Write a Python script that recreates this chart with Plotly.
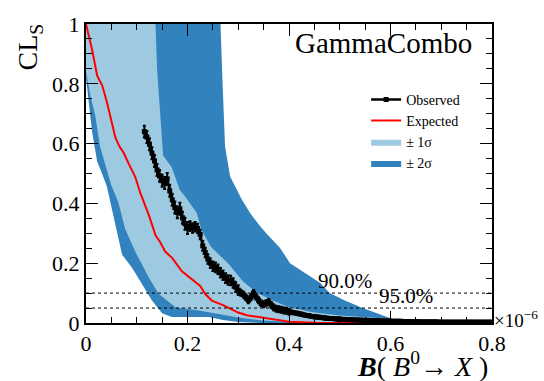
import plotly.graph_objects as go

# ---------------- data ----------------
# +-2 sigma band edges
up2_x = [0.0, 0.265, 0.269, 0.274, 0.284, 0.307, 0.323, 0.340, 0.355, 0.382, 0.402, 0.435, 0.461, 0.480, 0.510, 0.545, 0.575, 0.600, 0.620, 0.650, 0.800]
up2_y = [1.0, 1.0, 0.805, 0.590, 0.490, 0.413, 0.369, 0.330, 0.300, 0.252, 0.200, 0.163, 0.135, 0.100, 0.075, 0.050, 0.030, 0.016, 0.005, 0.001, 0.0]
lo2_x = [0.0, 0.005, 0.012, 0.022, 0.0315, 0.041, 0.055, 0.071, 0.091, 0.110, 0.130, 0.150, 0.169, 0.242, 0.270, 0.300, 0.350]
lo2_y = [0.82, 0.75, 0.64, 0.54, 0.50, 0.457, 0.347, 0.229, 0.184, 0.131, 0.075, 0.033, 0.020, 0.020, 0.010, 0.003, 0.0]
# +-1 sigma band edges
up1_x = [0.0, 0.137, 0.140, 0.146, 0.152, 0.169, 0.185, 0.195, 0.218, 0.228, 0.246, 0.282, 0.309, 0.337, 0.368, 0.402, 0.447, 0.500, 0.580, 0.650, 0.700, 0.800]
up1_y = [1.0, 1.0, 0.85, 0.70, 0.56, 0.52, 0.444, 0.424, 0.369, 0.310, 0.255, 0.196, 0.140, 0.101, 0.075, 0.052, 0.036, 0.025, 0.016, 0.008, 0.003, 0.0]
lo1_x = [0.0, 0.010, 0.018, 0.028, 0.037, 0.050, 0.064, 0.077, 0.097, 0.124, 0.143, 0.176, 0.222, 0.260, 0.300, 0.350, 0.400, 0.500]
lo1_y = [0.84, 0.75, 0.696, 0.588, 0.54, 0.46, 0.402, 0.315, 0.239, 0.151, 0.098, 0.053, 0.042, 0.030, 0.018, 0.008, 0.003, 0.0]

# expected CLs
exp_x = [0.0, 0.012, 0.022, 0.032, 0.041, 0.051, 0.058, 0.066, 0.074, 0.084, 0.097, 0.107, 0.124, 0.137, 0.146, 0.156,
         0.170, 0.189, 0.209, 0.225, 0.235, 0.248, 0.270, 0.284, 0.300, 0.317, 0.340, 0.357, 0.376, 0.400, 0.450, 0.800]
exp_y = [1.0, 0.914, 0.827, 0.794, 0.74, 0.663, 0.62, 0.59, 0.57, 0.533, 0.489, 0.435, 0.36, 0.293, 0.271, 0.239,
         0.217, 0.173, 0.146, 0.124, 0.097, 0.075, 0.06, 0.049, 0.035, 0.026, 0.02, 0.016, 0.01, 0.004, 0.001, 0.0]

# observed CLs scan (grid start 0.115, step 0.005)
obs_x0 = 0.115
obs_step = 0.005
obs_y = [0.640, 0.622, 0.598, 0.568, 0.542, 0.512, 0.492, 0.476, 0.468, 0.482,
         0.442, 0.412, 0.386, 0.370, 0.382, 0.352, 0.332, 0.318, 0.324, 0.318,
         0.322, 0.316, 0.296, 0.258, 0.236, 0.214, 0.200, 0.190, 0.186, 0.180,
         0.168, 0.160, 0.150, 0.144, 0.142, 0.134, 0.120, 0.110, 0.101, 0.095,
         0.086, 0.076, 0.086, 0.100, 0.088, 0.076, 0.066, 0.063, 0.066, 0.070,
         0.060, 0.052, 0.048, 0.046, 0.044, 0.042, 0.041, 0.038, 0.036, 0.034,
         0.033, 0.031, 0.029, 0.027, 0.025, 0.024, 0.022, 0.021, 0.020, 0.019,
         0.018, 0.017, 0.016, 0.015, 0.015, 0.014, 0.013, 0.013,
         0.012, 0.012, 0.011, 0.011, 0.011, 0.010, 0.010, 0.010, 0.009, 0.009,
         0.009, 0.008, 0.008, 0.008, 0.008, 0.007, 0.007, 0.007, 0.007, 0.006,
         0.006, 0.006, 0.006, 0.006, 0.005, 0.005, 0.005, 0.005, 0.005, 0.005,
         0.004, 0.004, 0.004, 0.004, 0.004, 0.004, 0.004, 0.004, 0.003, 0.003,
         0.003, 0.003, 0.003, 0.003, 0.003, 0.003, 0.003, 0.003, 0.003, 0.003,
         0.003, 0.003, 0.003, 0.003, 0.003, 0.003, 0.003, 0.003, 0.003, 0.003]
obs_err = [0.020] * 18 + [0.016] * 20 + [0.010] * 20 + [0.005] * 20 + [0.003] * 60
obs_x = [round(obs_x0 + obs_step * i, 4) for i in range(len(obs_y))]

cl_levels = [0.10, 0.05]
cl_labels = ["90.0%", "95.0%"]

x_ticks = [0, 0.2, 0.4, 0.6, 0.8]
y_ticks = [0, 0.2, 0.4, 0.6, 0.8, 1]

# ---------------- figure ----------------
LIGHT = "#9ecae1"
DARK = "#3182bd"
FONT = "Liberation Serif"

fig = go.Figure()
fig.add_trace(go.Scatter(x=up2_x + lo2_x[::-1], y=up2_y + lo2_y[::-1], fill="toself",
                         fillcolor=DARK, line=dict(width=0, color=DARK), mode="lines",
                         name="± 2σ", legendrank=4, hoverinfo="skip"))
fig.add_trace(go.Scatter(x=up1_x + lo1_x[::-1], y=up1_y + lo1_y[::-1], fill="toself",
                         fillcolor=LIGHT, line=dict(width=0, color=LIGHT), mode="lines",
                         name="± 1σ", legendrank=3, hoverinfo="skip"))
fig.add_trace(go.Scatter(x=exp_x, y=exp_y, mode="lines", line=dict(color="#ff0000", width=2),
                         name="Expected", legendrank=2))
fig.add_trace(go.Scatter(x=obs_x, y=obs_y, mode="lines+markers",
                         line=dict(color="black", width=2.5),
                         marker=dict(symbol="square", size=5, color="black"),
                         error_y=dict(type="data", array=obs_err, color="black", thickness=2, width=1.5),
                         name="Observed", legendrank=1))

for lvl, lab, lx in zip(cl_levels, cl_labels, [0.51, 0.63]):
    fig.add_shape(type="line", xref="x", yref="y", x0=0, x1=0.8, y0=lvl, y1=lvl,
                  line=dict(color="black", width=1, dash="dot"), layer="above")
    fig.add_annotation(x=lx, y=lvl, xref="x", yref="y", text=lab, showarrow=False,
                       yanchor="bottom", yshift=-2, font=dict(family=FONT, size=21, color="black"))

fig.add_annotation(x=0.955, y=0.995, xref="paper", yref="paper", text="GammaCombo", showarrow=False,
                   xanchor="right", yanchor="top", font=dict(family=FONT, size=29, color="black"))
fig.add_annotation(x=1.0, y=0.0, xref="paper", yref="paper", text="×10<sup>−6</sup>", showarrow=False,
                   xanchor="left", yanchor="middle", yshift=4, font=dict(family=FONT, size=19, color="black"))
fig.add_annotation(x=0.995, y=-0.205, xref="paper", yref="paper",
                   text="<b><i>B</i></b>( <i>B</i><sup>0</sup>→ <i>X</i> )", showarrow=False,
                   xanchor="right", yanchor="bottom", font=dict(family=FONT, size=28, color="black"))
fig.add_annotation(x=-0.138, y=1.01, xref="paper", yref="paper", text="CL<sub>S</sub>", showarrow=False,
                   textangle=-90, xanchor="center", yanchor="top", font=dict(family=FONT, size=28, color="black"))

axis_common = dict(showgrid=False, zeroline=False, showline=True, linecolor="black", linewidth=2,
                   mirror="ticks", ticks="inside", ticklen=12, tickwidth=1, tickcolor="black",
                   tickfont=dict(family=FONT, size=22, color="black"))
fig.update_xaxes(range=[0, 0.8], tickvals=x_ticks, ticktext=[f"{v:g}" for v in x_ticks],
                 minor=dict(dtick=0.05, tick0=0, ticks="inside", ticklen=6, tickcolor="black"),
                 **axis_common)
fig.update_yaxes(range=[0, 1], tickvals=y_ticks, ticktext=[f"{v:g}" for v in y_ticks],
                 minor=dict(dtick=0.05, tick0=0, ticks="inside", ticklen=6, tickcolor="black"),
                 **axis_common)

fig.update_layout(width=544, height=381, margin=dict(l=86, r=52, t=17, b=58),
                  plot_bgcolor="white", paper_bgcolor="white",
                  legend=dict(x=0.69, y=0.80, xanchor="left", yanchor="top", bgcolor="rgba(0,0,0,0)",
                              font=dict(family=FONT, size=14, color="black"), itemwidth=30,
                              tracegroupgap=0),
                  showlegend=True)

fig.write_html("out.html")
